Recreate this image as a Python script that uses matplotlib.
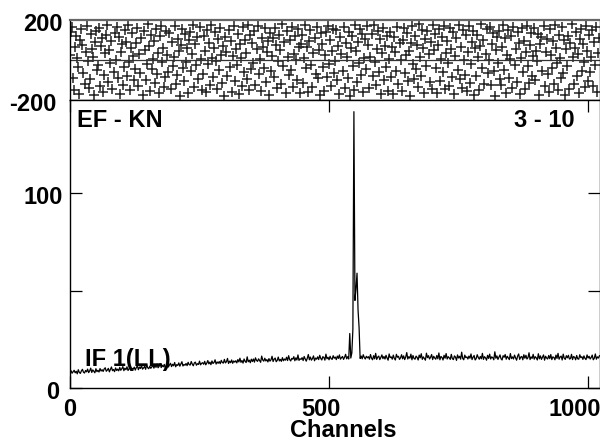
import numpy as np
import matplotlib
matplotlib.use("Agg")
import matplotlib.pyplot as plt
from matplotlib.transforms import ScaledTranslation

plt.rcParams['font.family'] = ['Liberation Sans', 'DejaVu Sans']
plt.rcParams['font.weight'] = 'bold'
plt.rcParams['font.size'] = 17

# phase (degrees), every second channel
phase = [
    23, 141, 167, -88, -152, 64, 118, 9, -37, -171, 102, 155, 76, -64, -119, 38, 171, -5, -140, -96, 131, 57, 14, -177, 88, 146, -52, -23, 159, -131, 71, 109,
    -160, -74, 33, 126, 174, -109, 48, -15, 95, -143, -58, 137, 2, 163, -91, 117, -168, 41, 79, -127, -34, 150, 92, -82, 176, -11, -151, 60, 135, 18, -102, -47,
    84, 162, -129, 29, -66, 112, -175, 147, 51, -99, -20, 179, 68, -156, 125, -43, 7, 97, -113, 154, -72, 36, -164, 121, 172, -8, 62, -136, -87, 143, 26, -59,
    133, -146, 90, -31, 16, 169, -121, -77, 106, 45, -180, 74, 157, -41, -103, 128, -12, 58, -166, 99, 140, -55, 31, 177, -137, 81, -26, 114, -94, 166, 5, -148,
    -69, 120, 47, -161, 152, -18, 87, -124, 173, 12, -85, 61, 138, -3, -145, 104, -50, 160, 27, -117, 69, -178, 116, 42, -80, 149, -33, 94, -158, 19, 170, -106,
    56, -27, 132, -170, 78, 11, -132, 164, -61, 100, 35, -97, 175, -149, 123, -44, 86, -14, 144, -125, 53, 168, -71, 3, -154, 111, 66, -39, 158, -110, 40, 96,
    -174, 136, -57, 21, 108, -84, 161, 73, -142, -6, 127, 50, -118, 178, -30, 89, -163, 145, 15, -76, 101, -48, 167, -134, 32, 119, -2, -98, 153, 67, -167, 82,
    124, -115, 10, 174, -42, 63, -159, 93, 148, -24, -133, 37, 110, -68, 165, -92, 52, -176, 134, 80, -36, -155, 25, 142, -83, 172, -19, 98, -128, 46, 156, -63,
    -7, 151, -101, 70, -169, 115, 30, -53, 163, -138, 85, 13, -90, 139, -179, 59, 122, -29, -150, 176, 44, -111, 91, -16, 157, -73, 130, -162, 8, 105, -45, 171,
    77, -141, 17, 129, -78, 177, -9, -123, 55, 146, -60, 103, -170, 34, 160, -100, 72, -35, 118, -157, 4, 141, -87, 65, -172, 113, 39, -54, 166, -120, 83, -1,
    -153, 99, 158, -65, 24, 137, -107, 43, -180, 87, 169, -22, -96, 120, -46, 75, -135, 178, 13, -79, 150, 61, -163, 106, -28, 144, 28, -112, 92, -144, 173, 49,
    131, -38, -165, 76, 154, -104, 6, 117, -62, 170, -147, 33, 95, -13, -130, 162, 54, -86, 139, -171, 20, 112, -49, 175, -95, 66, -139, 148, 1, -75, 124, -156,
    41, 168, -114, -21, 88, 143, -173, 58, -81, 127, 15, -152, 70, 178, -40, 101, -122, 32, 155, -67, -1, 163, -126, 80, 134, -56, -178, 48, 116, -17, 147, -93,
    -127, 64, 174, -51, 109, -165, 27, 150, -89, 3, 122, -141, 167, -25, 57, -108, 138, 84, -169, 11, 159, -62, 97, -144, 42, 172, -31, -116, 73, 136, -82, 20,
    161, -98, 44, -4, 130, -176, 82, 115, -56, 171, -131, 38, 107, -70, -162, 153, 23, -42, 94, -119, 176, 60, -15, -149, 127, 9, -92, 164, -66, 100, -174, 53,
    -32, 119, -147, 85, 179, 14, -118, 62, 140, -81, 31, -166, 103, 157, -54, 79, -10, -137, 169, 47, -104, 126, -59, 16, 152, -128, 90, -23, 165, -160, 35, 111,
]

# amplitude, every second channel
amplitude = [
    7.2, 8.9, 7.6, 8.4, 9.1, 7.8, 8.6, 7.3, 9.4, 8.0, 7.5, 8.8, 9.6, 8.1, 7.7, 9.0,
    8.3, 9.7, 7.9, 8.8, 10.2, 8.0, 9.3, 8.6, 7.8, 9.9, 8.4, 9.1, 8.2, 10.0, 8.7, 9.4,
    8.5, 9.8, 10.4, 8.6, 9.2, 10.1, 8.3, 9.6, 10.8, 8.9, 9.5, 8.4, 10.3, 9.0, 9.7, 8.8,
    10.6, 9.1, 9.9, 11.0, 8.9, 10.2, 9.4, 10.9, 9.0, 9.8, 11.3, 9.3, 10.1, 9.6, 10.7, 9.2,
    10.5, 11.4, 9.4, 10.8, 10.0, 11.6, 9.7, 10.3, 11.1, 9.6, 12.0, 10.4, 9.9, 11.2, 10.1, 10.9,
    11.5, 10.2, 11.9, 10.6, 12.3, 10.4, 11.1, 12.6, 10.5, 11.7, 10.9, 12.1, 10.3, 11.4, 12.8, 10.8,
    11.9, 12.7, 11.0, 12.2, 11.4, 13.1, 10.9, 12.0, 11.6, 12.9, 11.2, 12.4, 13.5, 11.3, 12.1, 11.7,
    12.6, 11.5, 13.2, 12.0, 11.8, 13.6, 12.3, 11.4, 12.9, 13.3, 11.7, 12.5, 12.1, 13.8, 11.9, 12.7,
    13.0, 12.2, 13.7, 11.9, 12.8, 14.1, 12.4, 13.3, 12.0, 13.9, 12.6, 13.1, 14.5, 12.3, 13.4, 12.7,
    13.6, 12.5, 14.2, 13.1, 12.8, 14.7, 12.9, 13.5, 15.2, 12.6, 13.8, 13.0, 14.4, 12.7, 13.9, 13.3,
    14.0, 12.9, 14.6, 13.4, 15.3, 13.2, 14.1, 12.8, 14.9, 13.7, 13.1, 16.0, 13.5, 14.3, 13.0, 14.8,
    13.6, 14.9, 13.3, 15.5, 14.2, 13.7, 15.0, 14.1, 13.2, 16.4, 14.4, 13.8, 15.3, 13.9, 14.6, 13.4,
    15.1, 13.8, 14.5, 16.3, 13.6, 14.8, 15.4, 13.5, 14.2, 15.9, 13.9, 14.7, 13.7, 15.6, 14.0, 14.9,
    14.3, 15.8, 14.1, 16.6, 14.6, 13.9, 15.2, 14.8, 16.1, 14.0, 15.5, 14.4, 17.0, 14.2, 15.0, 14.7,
    15.6, 14.1, 16.2, 14.9, 13.8, 15.3, 17.2, 14.5, 15.9, 14.3, 15.1, 16.5, 14.0, 15.4, 14.8, 16.0,
    14.6, 16.8, 15.2, 14.4, 16.1, 15.7, 14.3, 17.4, 15.0, 15.8, 14.5, 16.3, 15.1, 14.7, 16.6, 15.3,
    15.9, 14.6, 16.4, 15.2, 17.0, 14.8, 15.6, 16.2, 14.7, 15.8, 17.3, 15.0, 16.1, 14.9, 28.0, 15.4,
    18.0, 30.0, 142.0, 45.0, 51.0, 59.0, 40.0, 31.0, 15.2, 16.4, 15.0, 17.1, 15.7, 14.9, 16.3, 15.5,
    16.1, 14.8, 17.2, 15.3, 14.5, 16.6, 15.0, 17.8, 14.7, 15.9, 16.4, 14.6, 15.7, 17.0, 15.1, 16.2,
    14.9, 16.8, 15.4, 14.3, 17.5, 15.6, 16.0, 14.8, 16.9, 15.2, 14.4, 17.3, 15.8, 16.3, 14.7, 15.5,
    17.1, 15.0, 16.5, 14.6, 15.9, 18.2, 14.9, 16.1, 15.3, 17.4, 14.5, 16.7, 15.2, 14.8, 16.4, 15.7,
    14.4, 16.9, 15.5, 17.6, 14.7, 16.0, 15.1, 14.3, 17.9, 15.6, 16.6, 14.9, 15.8, 17.2, 14.6, 16.3,
    15.4, 14.8, 16.7, 15.0, 18.0, 14.5, 16.2, 15.7, 14.4, 16.8, 15.3, 17.7, 14.9, 16.1, 15.5, 14.7,
    17.3, 15.1, 14.6, 16.5, 15.9, 14.2, 17.0, 15.4, 16.3, 14.8, 18.4, 15.2, 14.5, 16.9, 15.6, 16.0,
    14.9, 16.4, 15.3, 17.5, 14.6, 15.8, 16.7, 14.4, 15.1, 17.1, 15.7, 14.8, 16.2, 15.0, 17.8, 14.7,
    16.1, 15.5, 14.3, 16.8, 15.2, 17.4, 14.9, 16.0, 15.6, 14.5, 18.6, 15.3, 16.5, 14.7, 15.9, 17.0,
    15.0, 14.4, 16.6, 15.8, 17.2, 14.8, 16.3, 15.4, 14.6, 17.7, 15.1, 16.0, 14.9, 16.9, 15.5, 14.3,
    16.4, 17.5, 14.7, 15.9, 16.2, 14.5, 17.1, 15.3, 16.8, 14.9, 15.6, 18.1, 14.6, 16.0, 15.2, 17.3,
    14.8, 16.1, 15.5, 14.4, 17.6, 15.0, 16.5, 14.7, 15.8, 17.0, 14.3, 16.3, 15.4, 14.9, 16.7, 15.1,
    17.2, 14.6, 16.0, 15.7, 14.5, 16.9, 15.2, 17.8, 14.8, 15.9, 16.4, 14.4, 17.4, 15.3, 14.7, 16.6,
    15.5, 16.8, 14.9, 15.1, 17.3, 14.6, 16.2, 15.8, 14.5, 16.7, 15.0, 14.8, 17.1, 15.6, 16.1, 14.7,
    16.5, 15.2, 14.6, 17.0, 15.4, 16.3, 14.9, 15.7, 16.9, 14.5, 15.3, 17.5, 14.8, 16.0, 15.4, 16.6,
]

x_ticks = [0, 500, 1000]
amp_ticks = [0, 50, 100]
amp_labels = ['0', '', '100']
phase_ticks = [-200, 200]

phase_chan = np.arange(len(phase)) * 2
amp_chan = np.arange(len(amplitude)) * 2

W, H = 600, 442
fig = plt.figure(figsize=(W / 100, H / 100), dpi=100)
ax1 = fig.add_axes([70 / W, 1 - 100 / H, 530 / W, 80 / H])
ax2 = fig.add_axes([70 / W, 1 - 388 / H, 530 / W, 288 / H])

# phase panel
ax1.plot(phase_chan, phase, '+', color='#222222', ms=7.5, mew=1.1)
ax1.axhline(0, color='#333333', lw=0.9)
ax1.set_xlim(0, 1023)
ax1.set_ylim(-200, 200)
ax1.set_xticks([])
ax1.set_yticks(phase_ticks)
ax1.set_yticklabels(['-200', '200'])
ax1.tick_params(axis='y', direction='in', length=0, pad=5)
ax1.spines['top'].set_color('#666666')
ax1.spines['top'].set_linewidth(1.6)
for s in ['left', 'bottom', 'right']:
    ax1.spines[s].set_linewidth(1.0)

# amplitude panel
ax2.plot(amp_chan, amplitude, color='black', lw=0.9)
ax2.set_xlim(0, 1023)
ax2.set_ylim(0, 148)
ax2.set_xticks(x_ticks)
ax2.set_xticklabels([str(t) for t in x_ticks])
ax2.set_yticks(amp_ticks)
ax2.set_yticklabels(amp_labels)
ax2.tick_params(direction='in', length=8.6, width=0.9, top=True, right=True)
ax2.tick_params(axis='x', pad=7)
ax2.tick_params(axis='y', pad=5)
for s in ax2.spines.values():
    s.set_linewidth(1.0)

# nudge labels like the original plot
for lab, dx in zip(ax2.get_xticklabels(), [0, -8, -13.5]):
    lab.set_transform(lab.get_transform() + ScaledTranslation(dx / 100, 0, fig.dpi_scale_trans))
for lab, dx in zip(ax2.get_yticklabels(), [-4, 0, 0]):
    lab.set_transform(lab.get_transform() + ScaledTranslation(dx / 100, -2 / 100, fig.dpi_scale_trans))
for lab, dx in zip(ax1.get_yticklabels(), [-7, 0]):
    lab.set_transform(lab.get_transform() + ScaledTranslation(dx / 100, -2 / 100, fig.dpi_scale_trans))

fig.text(77 / W, 1 - 127 / H, 'EF - KN', ha='left', va='baseline')
fig.text(575 / W, 1 - 127 / H, '3 - 10', ha='right', va='baseline')
fig.text(85 / W, 1 - 366 / H, 'IF 1(LL)', ha='left', va='baseline')
fig.text(343 / W, 1 - 437 / H, 'Channels', ha='center', va='baseline')

fig.savefig('out.png', dpi=100)
